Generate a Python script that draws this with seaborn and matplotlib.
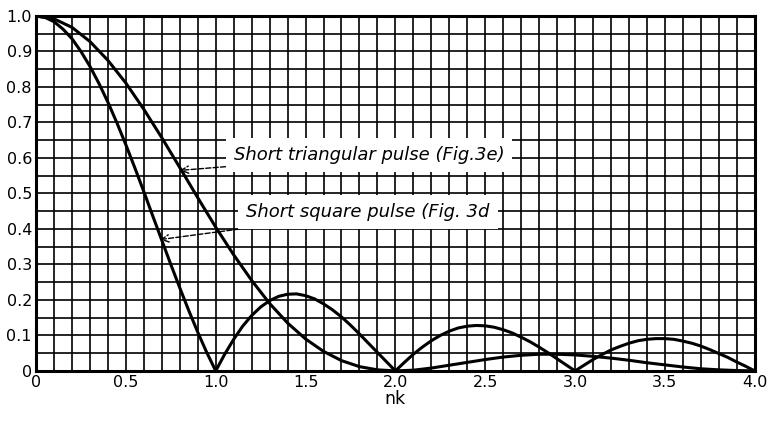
import numpy as np
import pandas as pd
import matplotlib
matplotlib.use("Agg")
import matplotlib.pyplot as plt
import seaborn as sns

# values
nk_sq = [round(0.05 * i, 2) for i in range(81)]
square = [1.0, 0.996, 0.984, 0.963, 0.936, 0.900, 0.858, 0.810, 0.757, 0.699,
          0.637, 0.572, 0.505, 0.436, 0.368, 0.300, 0.234, 0.170, 0.109, 0.052,
          0.0, 0.047, 0.089, 0.126, 0.156, 0.180, 0.198, 0.210, 0.216, 0.217,
          0.212, 0.203, 0.189, 0.172, 0.152, 0.129, 0.104, 0.078, 0.052, 0.026,
          0.0, 0.024, 0.047, 0.067, 0.085, 0.100, 0.112, 0.121, 0.126, 0.128,
          0.127, 0.123, 0.116, 0.107, 0.095, 0.082, 0.067, 0.051, 0.034, 0.017,
          0.0, 0.016, 0.032, 0.046, 0.059, 0.069, 0.078, 0.085, 0.089, 0.091,
          0.091, 0.089, 0.084, 0.078, 0.070, 0.060, 0.049, 0.038, 0.025, 0.013,
          0.0]

nk_tri = [round(0.1 * i, 1) for i in range(41)]
triangle = [1.0, 0.992, 0.968, 0.928, 0.875, 0.811, 0.737, 0.657, 0.573, 0.488,
            0.405, 0.327, 0.255, 0.190, 0.135, 0.090, 0.055, 0.029, 0.012, 0.003,
            0.0, 0.002, 0.008, 0.016, 0.024, 0.032, 0.039, 0.044, 0.047, 0.047,
            0.045, 0.041, 0.036, 0.030, 0.023, 0.017, 0.011, 0.006, 0.003, 0.001,
            0.0]

x_ticks = [0, 0.5, 1.0, 1.5, 2.0, 2.5, 3.0, 3.5, 4.0]
x_labels = ["0", "0.5", "1.0", "1.5", "2.0", "2.5", "3.0", "3.5", "4.0"]
y_ticks = [0, 0.1, 0.2, 0.3, 0.4, 0.5, 0.6, 0.7, 0.8, 0.9, 1.0]
y_labels = ["0", "0.1", "0.2", "0.3", "0.4", "0.5", "0.6", "0.7", "0.8", "0.9", "1.0"]

df_sq = pd.DataFrame({"nk": nk_sq, "amp": square})
df_tri = pd.DataFrame({"nk": nk_tri, "amp": triangle})

sns.set_style("white")
plt.rcParams["font.family"] = ["DejaVu Sans"]
plt.rcParams["text.color"] = "black"

fig = plt.figure(figsize=(7.67, 4.21), dpi=100)
ax = fig.add_axes([0.047, 0.119, 0.937, 0.843])

sns.lineplot(data=df_sq, x="nk", y="amp", color="black", lw=2.2, ax=ax)
sns.lineplot(data=df_tri, x="nk", y="amp", color="black", lw=2.2, ax=ax)

ax.set_xlim(0, 4.0)
ax.set_ylim(0, 1.0)
ax.set_xticks(np.arange(0, 4.01, 0.1), minor=True)
ax.set_yticks(np.arange(0, 1.001, 0.05), minor=True)
ax.set_xticks(x_ticks)
ax.set_xticklabels(x_labels)
ax.set_yticks(y_ticks)
ax.set_yticklabels(y_labels)
ax.grid(which="both", color="black", lw=1.2)
ax.tick_params(which="both", length=0, labelsize=11.5, pad=3, labelcolor="black")
for s in ax.spines.values():
    s.set_color("black")
    s.set_linewidth(2.2)
ax.set_xlabel("nk", fontsize=12.5, labelpad=0, color="black")
ax.set_ylabel("")

box = dict(boxstyle="square,pad=0.45", fc="white", ec="none")
ax.annotate("Short triangular pulse (Fig.3e)", xy=(0.80, 0.565), xytext=(1.10, 0.608),
            fontsize=13, style="italic", va="center", ha="left", bbox=box, color="black",
            arrowprops=dict(arrowstyle="->", ls="--", lw=1, color="black",
                            shrinkA=0, shrinkB=0))
ax.annotate("Short square pulse (Fig. 3d", xy=(0.69, 0.37), xytext=(1.17, 0.448),
            fontsize=13, style="italic", va="center", ha="left", bbox=box, color="black",
            arrowprops=dict(arrowstyle="->", ls="--", lw=1, color="black",
                            shrinkA=0, shrinkB=0))

fig.savefig("out.png", dpi=100)
